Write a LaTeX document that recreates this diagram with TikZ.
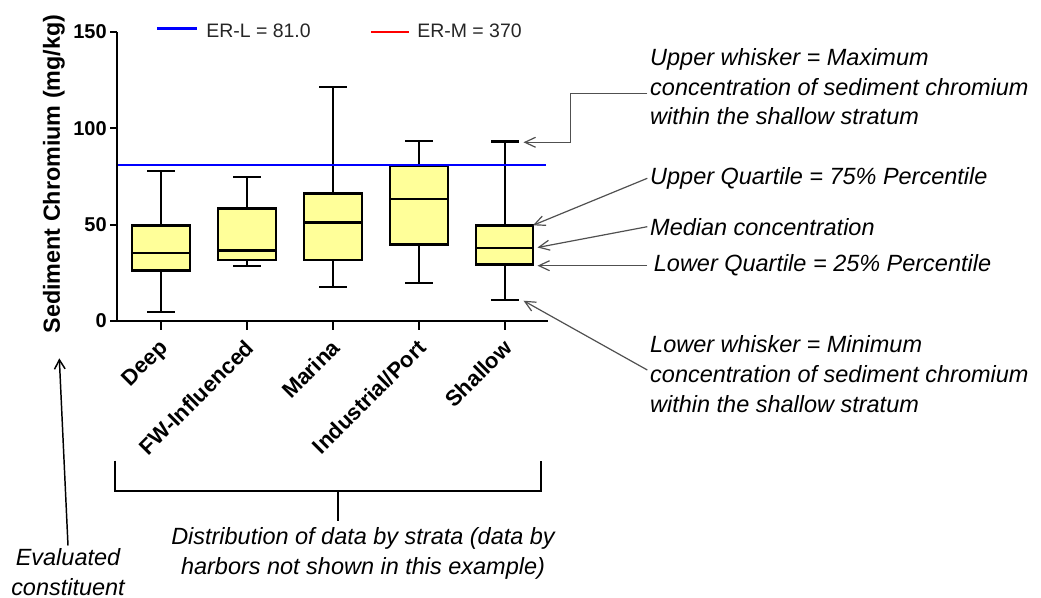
\documentclass[tikz,border=0pt]{standalone}
\usepackage{fontspec}
\setmainfont{Liberation Sans}
\usetikzlibrary{arrows.meta, positioning}
\definecolor{boxfill}{RGB}{255,255,153}
\definecolor{notegray}{RGB}{80,80,80}

\begin{document}
\begin{tikzpicture}[x=0.75pt, y=-0.75pt,
  boxline/.style = {draw=black, line width=2.1pt, fill=boxfill},
  whisker/.style = {line width=1.5pt},
  axisline/.style = {line width=1.5pt},
  ticklabel/.style = {anchor=east, inner sep=0pt, font=\fontsize{15}{18}\selectfont\bfseries},
  catlabel/.style = {anchor=north east, rotate=45, inner sep=0pt, font=\fontsize{16.5}{19}\selectfont\bfseries},
  legendtext/.style = {anchor=west, inner sep=0pt, text=black!85, font=\fontsize{14.6}{17}\selectfont},
  note/.style = {align=left, inner sep=2pt, font=\fontsize{17.6}{22.4}\selectfont\itshape},
  notearrow/.style = {draw=notegray, line width=0.9pt, -{Straight Barb[length=8pt, width=7.5pt]}},
  bracket/.style = {line width=1.5pt}
]
\useasboundingbox (0,0) rectangle (1041,598);

% plot area, y in data units
\begin{scope}[shift={(0,321)}, yscale=-1.926]
  % Deep
  \draw[whisker] (147,4.7) -- (175,4.7) (161,4.7) -- (161,78) (147,78) -- (175,78);
  \draw[boxline] (132,26.1) rectangle (190,49.5);
  \draw[boxline] (132,35.3) -- (190,35.3);
  % FW-Influenced
  \draw[whisker] (233,28.5) -- (261,28.5) (247,28.5) -- (247,74.6) (233,74.6) -- (261,74.6);
  \draw[boxline] (218,31.7) rectangle (276,58.3);
  \draw[boxline] (218,36.5) -- (276,36.5);
  % Marina
  \draw[whisker] (319,17.6) -- (347,17.6) (333,17.6) -- (333,121.3) (319,121.3) -- (347,121.3);
  \draw[boxline] (304,31.7) rectangle (362,66);
  \draw[boxline] (304,51.2) -- (362,51.2);
  % Industrial/Port
  \draw[whisker] (405,19.7) -- (433,19.7) (419,19.7) -- (419,93.6) (405,93.6) -- (433,93.6);
  \draw[boxline] (390,39.6) rectangle (448,80.5);
  \draw[boxline] (390,63.3) -- (448,63.3);
  % Shallow
  \draw[whisker, line width=1.9pt] (491,11) -- (519,11) (505,11) -- (505,93.1) (491,93.1) -- (519,93.1);
  \draw[boxline] (476,29.2) rectangle (533,49.5);
  \draw[boxline] (476,37.9) -- (533,37.9);

  % ER-L line
  \draw[blue, line width=1.8pt] (117,81) -- (546,81);

  % axes
  \draw[axisline] (117,150) -- (117,0) -- (548,0);
  \draw[axisline] (110,0) -- (117,0) (110,50) -- (117,50) (110,100) -- (117,100) (110,150) -- (117,150);
  \node[ticklabel] (t0) at (107,0) {0};
  \node[ticklabel] (t50) at (107,50) {50};
  \node[ticklabel] (t100) at (107,100) {100};
  \node[ticklabel] (t150) at (107,150) {150};
\end{scope}

\draw[axisline] (161,321) -- (161,330) (247,321) -- (247,330) (333,321) -- (333,330)
  (419,321) -- (419,330) (505,321) -- (505,330);
\node[catlabel] (deep) at (158,338) {Deep};
\node[catlabel] (fw) at (244,338) {FW-Influenced};
\node[catlabel] (marina) at (330,338) {Marina};
\node[catlabel] (indus) at (416,338) {Industrial/Port};
\node[catlabel] (shallow) at (502,338) {Shallow};

\node[rotate=90, inner sep=0pt, font=\fontsize{17.5}{20}\selectfont\bfseries] (ylabel) at (54,174) {Sediment Chromium (mg/kg)};

% legend
\coordinate (erla) at (157,28.3);
\coordinate (erlb) at (197,28.3);
\draw[blue, line width=1.9pt] (erla) -- (erlb);
\node[legendtext] (erltext) at (206,30.7) {ER-L = 81.0};
\coordinate (erma) at (371,32);
\coordinate (ermb) at (409,32);
\draw[red, line width=2.2pt] (erma) -- (ermb);
\node[legendtext] (ermtext) at (417,30.7) {ER-M = 370};

% annotations
\node[note, anchor=west] (uwnote) at (647.3,86.7) {Upper whisker = Maximum\\concentration of sediment chromium\\within the shallow stratum};
\coordinate (uwbend) at (570.7,142.3);
\coordinate (uwtip) at (523.5,142.3);
\draw[notearrow] ([yshift=-5pt]uwnote.west) -| (uwbend) -- (uwtip);

\node[note, anchor=west] (uqnote) at (647.3,178.3) {Upper Quartile = 75\% Percentile};
\coordinate (uqtip) at (533,225.3);
\draw[notearrow] (uqnote.west) -- (uqtip);

\node[note, anchor=west] (mednote) at (647.3,226.7) {Median concentration};
\coordinate (medtip) at (537.5,247.5);
\draw[notearrow] (mednote.west) -- (medtip);

\node[note, anchor=west] (lqnote) at (651,265.7) {Lower Quartile = 25\% Percentile};
\coordinate (lqtip) at (537.5,265.7);
\draw[notearrow] ([xshift=-3pt]lqnote.west) -- (lqtip);

\node[note, anchor=west] (lwnote) at (647.3,374) {Lower whisker = Minimum\\concentration of sediment chromium\\within the shallow stratum};
\coordinate (lwtip) at (523.5,300.7);
\draw[notearrow] ([yshift=3pt]lwnote.west) -- (lwtip);

% strata bracket
\coordinate (brl) at (114.8,460.7);
\coordinate (brr) at (540.8,460.7);
\draw[bracket] (brl) -- ++(0,30) -| (brr);
\coordinate (brmid) at (337.5,490.7);
\coordinate (brend) at (337.5,521);
\draw[bracket] (brmid) -- (brend);
\node[note, align=center] (distnote) at (363,553.3) {Distribution of data by strata (data by\\harbors not shown in this example)};

% evaluated constituent
\node[note, align=center] (evnote) at (68,572) {Evaluated\\constituent};
\coordinate (evtip) at (59.3,358.3);
\draw[line width=1.1pt, -{Straight Barb[length=7pt, width=8pt]}] (evnote.north) -- (evtip);
\end{tikzpicture}
\end{document}
